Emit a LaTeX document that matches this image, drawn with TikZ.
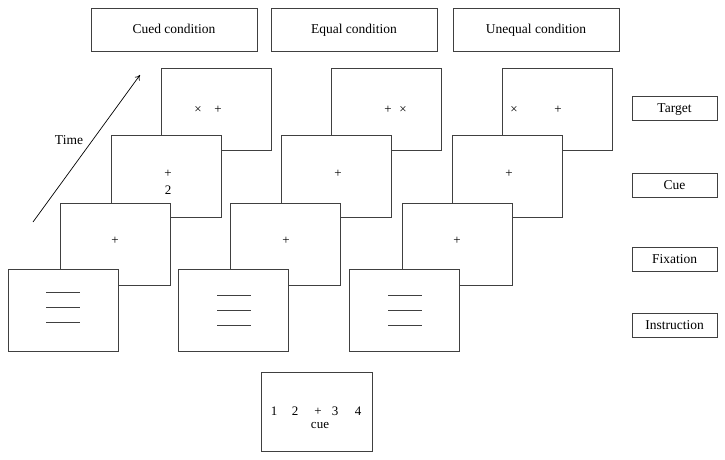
\documentclass[tikz,border=0pt]{standalone}
\usepackage{fontspec}
\setmainfont{Liberation Serif}
\usetikzlibrary{arrows.meta}
\begin{document}
\begin{tikzpicture}[x=1pt,y=-1pt,
  box/.style={draw=black!75,line width=0.8pt,fill=white,inner sep=0pt},
  header/.style={box,minimum width=166pt,minimum height=43pt,text height=9pt,text depth=1pt,font=\fontsize{13.5}{15}\selectfont},
  legend/.style={box,minimum width=85pt,minimum height=24pt,text height=9pt,text depth=1pt,font=\fontsize{13.5}{15}\selectfont},
  screen/.style={box,minimum width=110pt,minimum height=82pt},
  sym/.style={inner sep=0pt,font=\fontsize{13}{14}\selectfont},
  bar/.style={draw=black!75,line width=0.9pt}]
\useasboundingbox (0,0) rectangle (725,460);
% headers
\node[header] (h1) at (174,29.5) {Cued condition};
\node[header] (h2) at (354,29.5) {Equal condition};
\node[header] (h3) at (536,29.5) {Unequal condition};
% legends
\node[legend] (lt) at (674.5,108.5) {Target};
\node[legend] (lc) at (674.5,185) {Cue};
\node[legend] (lf) at (674.5,259) {Fixation};
\node[legend] (li) at (674.5,325) {Instruction};
% time arrow
\coordinate (a0) at (33,222);
\coordinate (a1) at (140,75);
\draw[line width=0.7pt,-{To[length=5pt,width=6pt]}] (a0) -- (a1);
\node[font=\fontsize{13.5}{15}\selectfont] (time) at (69,140) {Time};
% ---- cued column
\node[screen] (ct) at (216,109.5) {};
\node[sym] (ctx) at (198,110) {×};
\node[sym] (ctp) at (218,110) {+};
\node[screen] (cc) at (166,176) {};
\node[sym] (ccp) at (168,174) {+};
\node[sym] (cc2) at (168,190) {2};
\node[screen] (cf) at (115,244) {};
\node[sym] (cfp) at (115,241) {+};
\node[screen] (ci) at (63,310) {};
\draw[bar] (46,292) -- (80,292) (46,307) -- (80,307) (46,322) -- (80,322);
% ---- equal column
\node[screen] (et) at (386,109.5) {};
\node[sym] (etp) at (388,110) {+};
\node[sym] (etx) at (403,110) {×};
\node[screen] (ec) at (336,176) {};
\node[sym] (ecp) at (338,174) {+};
\node[screen] (ef) at (285,244) {};
\node[sym] (efp) at (286,241) {+};
\node[screen] (ei) at (233,310) {};
\draw[bar] (217,295) -- (251,295) (217,310) -- (251,310) (217,325) -- (251,325);
% ---- unequal column
\node[screen] (ut) at (557,109.5) {};
\node[sym] (utx) at (514,110) {×};
\node[sym] (utp) at (558,110) {+};
\node[screen] (uc) at (507,176) {};
\node[sym] (ucp) at (509,174) {+};
\node[screen] (uf) at (457,244) {};
\node[sym] (ufp) at (457,241) {+};
\node[screen] (ui) at (404,310) {};
\draw[bar] (388,295) -- (422,295) (388,310) -- (422,310) (388,325) -- (422,325);
% ---- bottom box
\node[box,minimum width=111pt,minimum height=79pt] (bb) at (316.5,411.5) {};
\begin{scope}[every node/.style={sym,anchor=base,font=\fontsize{13}{14}\selectfont}]
\node (n1) at (274,415) {1};
\node (n2) at (295,415) {2};
\node (np) at (318,415) {+};
\node (n3) at (335,415) {3};
\node (n4) at (358,415) {4};
\node (cue) at (320,428) {cue};
\end{scope}
\end{tikzpicture}
\end{document}
